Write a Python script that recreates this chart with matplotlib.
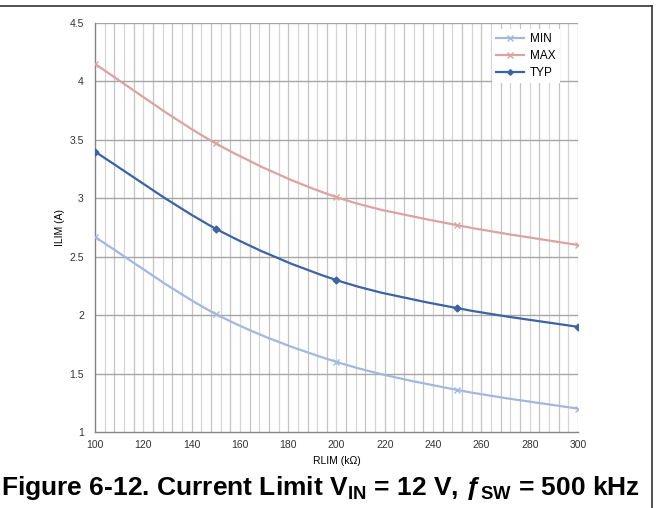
import matplotlib.pyplot as plt
import numpy as np
from matplotlib.path import Path
from matplotlib.patches import PathPatch
from matplotlib.lines import Line2D

plt.rcParams['font.family'] = ['Liberation Sans', 'DejaVu Sans']

rlim = [100, 150, 200, 250, 300]
ilim_min = [2.67, 2.01, 1.60, 1.36, 1.20]
ilim_max = [4.15, 3.47, 3.01, 2.77, 2.60]
ilim_typ = [3.40, 2.74, 2.30, 2.06, 1.90]

x_ticks = [100, 120, 140, 160, 180, 200, 220, 240, 260, 280, 300]
y_ticks = [1, 1.5, 2, 2.5, 3, 3.5, 4, 4.5]
y_labels = ['1', '1.5', '2', '2.5', '3', '3.5', '4', '4.5']


def smooth_path(xs, ys):
    # Catmull-Rom style bezier segments through each point (Excel "smoothed line")
    pts = np.column_stack([xs, ys]).astype(float)
    padded = np.vstack([pts[0], pts, pts[-1]])
    verts = [pts[0]]
    codes = [Path.MOVETO]
    for i in range(len(pts) - 1):
        p0, p1, p2, p3 = padded[i], padded[i + 1], padded[i + 2], padded[i + 3]
        c1 = p1 + (p2 - p0) / 6
        c2 = p2 - (p3 - p1) / 6
        verts += [c1, c2, p2]
        codes += [Path.CURVE4] * 3
    return Path(verts, codes)


fig = plt.figure(figsize=(6.56, 5.08), dpi=100)
ax = fig.add_axes([0.1448, 0.1496, 0.7363, 0.8051])

# grid: fine vertical lines every 4 kOhm, horizontal every 0.5 A
vx = np.arange(104, 301, 4)
ax.vlines(vx, 1, 4.5, colors=['#d6d6d6', '#c4c4c4'] * 25, linewidth=0.9, zorder=1)
ax.hlines(y_ticks[1:], 100, 300, colors='#a6a6a6', linewidth=1.0, zorder=1)

series = [
    ('MIN', ilim_min, '#a3b8dd', 'x', 5),
    ('MAX', ilim_max, '#dba3a2', 'x', 5),
    ('TYP', ilim_typ, '#3c63a2', 'D', 3.5),
]
handles = []
for name, vals, color, mk, ms in series:
    ax.add_patch(PathPatch(smooth_path(rlim, vals), facecolor='none',
                           edgecolor=color, linewidth=1.6, zorder=3))
    ax.plot(rlim, vals, linestyle='none', marker=mk, color=color,
            markersize=ms, markeredgewidth=1.0, zorder=4)
    handles.append(Line2D([], [], color=color, linewidth=1.6, marker=mk,
                          markersize=ms * 0.8, markevery=[0]))

ax.set_xlim(100, 300)
ax.set_ylim(1, 4.5)
ax.set_xticks(x_ticks)
ax.set_yticks(y_ticks)
ax.set_yticklabels(y_labels)
ax.tick_params(axis='both', length=0, labelsize=7.5, colors='#333333', pad=8)
ax.tick_params(axis='x', pad=6)
for side in ['top', 'right']:
    ax.spines[side].set_visible(False)
for side in ['left', 'bottom']:
    ax.spines[side].set_color('#868686')
    ax.spines[side].set_linewidth(1.0)

ax.set_xlabel('RLIM (k\u03a9)', fontsize=7.5, labelpad=4)
ax.set_ylabel('ILIM (A)', fontsize=7.5, labelpad=3)

leg = ax.legend(handles, ['MIN', 'MAX', 'TYP'], loc='upper right',
                bbox_to_anchor=(0.975, 1.0), fontsize=8.5, frameon=True,
                fancybox=False, edgecolor='none', handlelength=2.4,
                handletextpad=0.5, labelspacing=0.42, borderpad=0.35)
leg.get_frame().set_alpha(1.0)

# outer frame lines
fig.add_artist(Line2D([0, 0.994], [0.988, 0.988], color='#333333', linewidth=1.2))
fig.add_artist(Line2D([0.994, 0.994], [0, 0.988], color='#333333', linewidth=1.2))

fig.text(0.489, 0.040,
         'Figure 6-12. Current Limit V$_{\\mathregular{IN}}$ = 12 V, '
         '\u0192$_{\\mathregular{SW}}$ = 500 kHz',
         ha='center', va='center', fontsize=19, fontweight='bold')

fig.savefig('out.png', dpi=100)
